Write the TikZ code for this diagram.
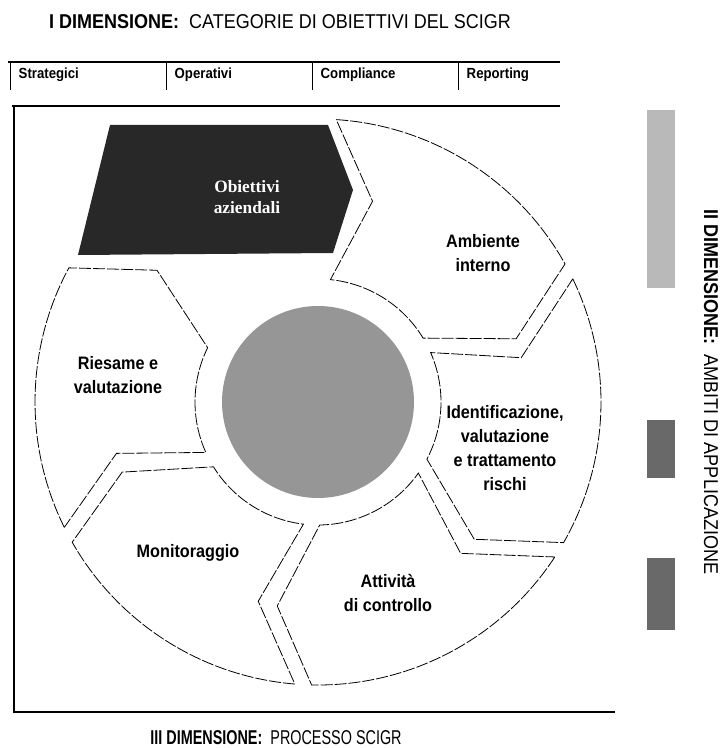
\documentclass[tikz,border=0pt]{standalone}
\usepackage{fontspec}
\setmainfont{Liberation Sans}
\newfontfamily\condfont[FakeStretch=0.9]{Liberation Sans}
\newfontfamily\narrowfont[FakeStretch=0.72]{Liberation Sans}
\newfontfamily\objfont{Liberation Serif}
\usetikzlibrary{calc}
\definecolor{darkfill}{RGB}{40,40,40}
\definecolor{midfill}{RGB}{150,150,150}
\definecolor{lightfill}{RGB}{185,185,185}

\begin{document}
\begin{tikzpicture}[x=0.75pt,y=-0.75pt,
  segline/.style={draw=black, line width=0.6pt, dash pattern=on 9pt off 1.5pt},
  framel/.style={draw=black, line width=1pt},
  seglab/.style={font=\condfont\bfseries\fontsize{13.5}{18}\selectfont, align=center},
  catlab/.style={font=\condfont\bfseries\fontsize{11}{13}\selectfont, anchor=west},
  dimlab/.style={font=\condfont\fontsize{15}{18}\selectfont}]
\useasboundingbox (0,0) rectangle (725,748);

% titles
\node[dimlab] (dimI) at (280,22) {\textbf{I DIMENSIONE:}\ \ CATEGORIE DI OBIETTIVI DEL SCIGR};
\node[dimlab, font=\narrowfont\fontsize{15}{18}\selectfont] (dimIII) at (276,738) {\textbf{III DIMENSIONE:}\ \ PROCESSO SCIGR};
\node[dimlab, rotate=-90] (dimII) at (711,392) {\textbf{II DIMENSIONE:}\ \ AMBITI DI APPLICAZIONE};

% category bar
\draw[framel] (8,62) -- (560,62);
\foreach \x/\t/\n in {10/Strategici/str,166/Operativi/ope,312/Compliance/com,458/Reporting/rep}{
  \draw[line width=0.6pt] (\x,62) -- (\x,90);
  \node[catlab] (\n) at (\x+4,75) {\t};
}

% frame
\draw[framel] (12,106) -- (560,106);
\draw[framel] (14,106) -- (14,712) -- (615,712);

% ambiti boxes
\fill[lightfill] (647,110) rectangle (675,288);
\fill[midfill!70!black] (647,420) rectangle (675,478);
\fill[midfill!70!black] (647,558) rectangle (675,630);

% wheel
\coordinate (C) at (318,402);
\fill[midfill] (C) circle[radius=96];

\foreach \sa/\sp/\ea/\ep in {-88/-77.5/-27.5/-15, -27.5/-15/31.5/44, 31.5/44/93/104, 93/104/152/163, 152/163/210/222}
  \draw[segline] ([shift={({\sa+1.7}:283)}]C)
    arc[start angle={\sa+1.7}, end angle={\ea-1.7}, radius=283]
    -- ([shift={({\ep-2.7}:208)}]C) -- ([shift={({\ea-3.8}:123)}]C)
    arc[start angle={\ea-3.8}, end angle={\sa+3.8}, radius=123]
    -- ([shift={({\sp+2.7}:208)}]C) -- cycle;

% obiettivi aziendali
\fill[darkfill] (110,125) -- (328,125) -- (353,190) -- (333,253) -- (78,255) -- cycle;
\node[text=white, font=\objfont\bfseries\fontsize{13}{16}\selectfont, align=center] (obi) at (247,197) {Obiettivi\\aziendali};

\node[seglab] (amb) at (483,253) {Ambiente\\interno};
\node[seglab] (ide) at (505,448) {Identificazione,\\valutazione\\e trattamento\\rischi};
\node[seglab] (att) at (388,593) {Attività\\di controllo};
\node[seglab] (mon) at (188,553) {Monitoraggio};
\node[seglab] (ries) at (118,375) {Riesame e\\valutazione};

\end{tikzpicture}
\end{document}
